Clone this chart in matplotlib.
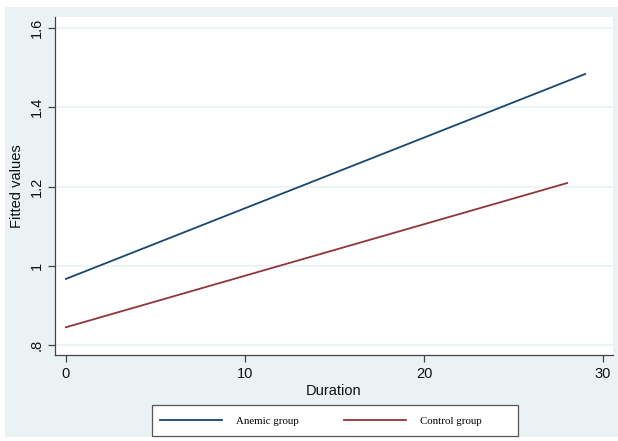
import matplotlib
matplotlib.use("Agg")
import matplotlib.pyplot as plt
from matplotlib.patches import Rectangle
import numpy as np

# Fitted linear predictions by group (endpoints of each fitted line)
duration_anemic = [0, 29]
fitted_anemic = [0.967, 1.484]
duration_control = [0, 28]
fitted_control = [0.845, 1.209]

xticks = [0, 10, 20, 30]
yticks = [0.8, 1.0, 1.2, 1.4, 1.6]
ytick_labels = [".8", "1", "1.2", "1.4", "1.6"]

bg = "#eaf2f3"
navy = "#1a476f"
maroon = "#90353b"

plt.rcParams["font.family"] = ["Liberation Sans", "DejaVu Sans"]

fig = plt.figure(figsize=(6.18, 4.41), dpi=100)
fig.patch.set_facecolor("white")
# Outer graph region
fig.patches.append(Rectangle((5 / 618, 4 / 441), 613 / 618, 430 / 441,
                             transform=fig.transFigure, facecolor=bg,
                             edgecolor="none", zorder=-10))
# Legend box
fig.patches.append(Rectangle((152 / 618, 5 / 441), 366 / 618, 31 / 441,
                             transform=fig.transFigure, facecolor="white",
                             edgecolor="#555555", lw=0.9, zorder=1))

ax = fig.add_axes([55 / 618, 86 / 441, 558 / 618, 338 / 441])
ax.set_facecolor("white")

ax.plot(duration_anemic, fitted_anemic, color=navy, lw=1.3, label="Anemic group")
ax.plot(duration_control, fitted_control, color=maroon, lw=1.3, label="Control group")

ax.set_xlim(-0.61, 30.56)
ax.set_ylim(0.775, 1.628)
ax.set_xticks(xticks)
ax.set_yticks(yticks)
ax.set_yticklabels(ytick_labels, rotation=90, va="center")
ax.grid(axis="y", color=bg, lw=1.2)
ax.set_axisbelow(True)

for side in ["top", "right"]:
    ax.spines[side].set_visible(False)
for side in ["left", "bottom"]:
    ax.spines[side].set_color("#444444")
    ax.spines[side].set_linewidth(0.9)
ax.tick_params(axis="both", direction="out", length=5, width=0.9,
               color="#444444", labelsize=10.5, labelcolor="#111111")
ax.tick_params(axis="y", pad=3)

ax.set_xlabel("Duration", fontsize=10.5, labelpad=2, color="#111111")
ax.set_ylabel("Fitted values", fontsize=10.5, labelpad=4, color="#111111")

leg = fig.legend(loc="center left", bbox_to_anchor=(160 / 618, 1 - 421 / 441),
                 ncol=2, frameon=False,
                 prop={"family": "Liberation Serif", "size": 7.8},
                 handlelength=5.7, columnspacing=4.2, handletextpad=1.3,
                 borderpad=0, borderaxespad=0)
leg.set_zorder(2)

fig.savefig("out.png", dpi=100, facecolor=fig.get_facecolor())
